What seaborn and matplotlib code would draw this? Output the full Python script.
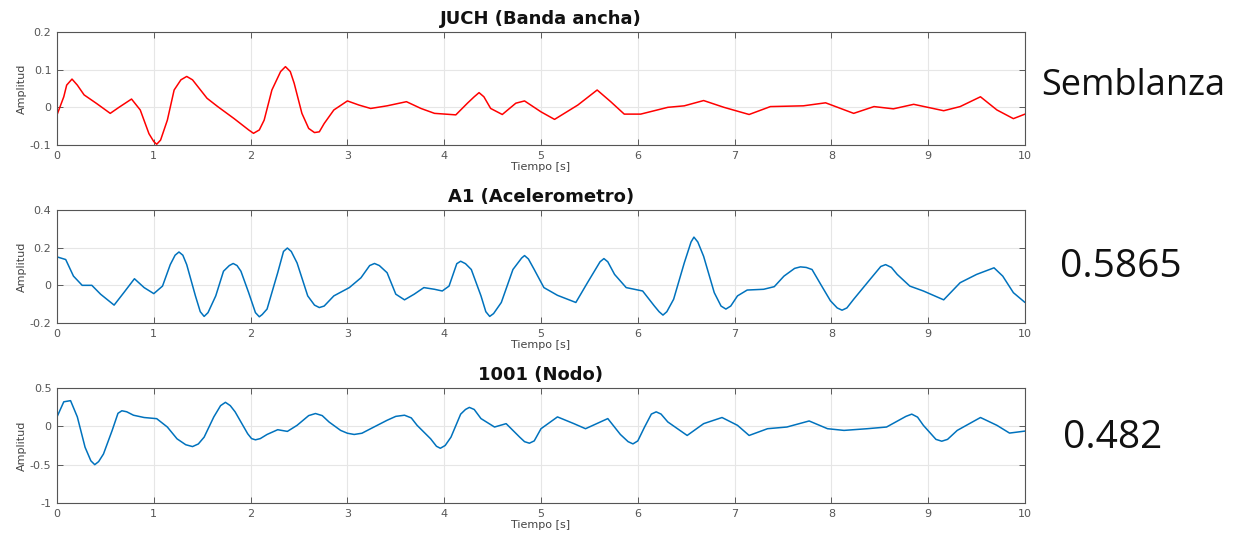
import numpy as np
import pandas as pd
import seaborn as sns
import matplotlib
matplotlib.use("Agg")
import matplotlib.pyplot as plt

# ---------------- data ----------------
juch_t = [0.0, 0.07, 0.10, 0.155, 0.21, 0.28, 0.41, 0.55, 0.64, 0.77, 0.86, 0.95, 1.0, 1.03, 1.07,
          1.14, 1.21, 1.28, 1.34, 1.40, 1.55, 1.66, 1.83, 1.98, 2.03, 2.09, 2.14, 2.22, 2.31, 2.36,
          2.41, 2.45, 2.53, 2.60, 2.66, 2.71, 2.76, 2.86, 3.0, 3.12, 3.24, 3.41, 3.61, 3.76, 3.90,
          4.12, 4.24, 4.31, 4.36, 4.41, 4.48, 4.6, 4.74, 4.83, 5.0, 5.14, 5.38, 5.58, 5.72, 5.86,
          6.03, 6.31, 6.48, 6.68, 6.89, 7.15, 7.37, 7.71, 7.94, 8.23, 8.44, 8.64, 8.85, 9.16, 9.33,
          9.54, 9.71, 9.88, 10.0]
juch_v = [-0.02, 0.028, 0.059, 0.075, 0.059, 0.033, 0.01, -0.016, 0.0, 0.022, -0.007, -0.07, -0.091,
          -0.098, -0.087, -0.034, 0.046, 0.073, 0.082, 0.073, 0.024, 0.002, -0.03, -0.06, -0.069,
          -0.06, -0.034, 0.046, 0.095, 0.108, 0.095, 0.064, -0.016, -0.056, -0.067, -0.065, -0.043,
          -0.007, 0.017, 0.006, -0.003, 0.004, 0.015, -0.003, -0.016, -0.02, 0.011, 0.028, 0.039,
          0.028, -0.003, -0.019, 0.011, 0.017, -0.012, -0.032, 0.006, 0.046, 0.015, -0.018, -0.018,
          0.0, 0.004, 0.018, 0.0, -0.019, 0.002, 0.004, 0.012, -0.016, 0.002, -0.004, 0.008, -0.009,
          0.002, 0.028, -0.007, -0.03, -0.018]

a1_t = [0.0, 0.09, 0.17, 0.26, 0.36, 0.45, 0.59, 0.69, 0.80, 0.90, 1.0, 1.09, 1.17, 1.22, 1.26, 1.30,
        1.34, 1.43, 1.48, 1.52, 1.56, 1.64, 1.72, 1.78, 1.82, 1.86, 1.9, 1.98, 2.05, 2.09, 2.12, 2.17,
        2.28, 2.34, 2.38, 2.42, 2.48, 2.59, 2.66, 2.71, 2.76, 2.86, 3.02, 3.14, 3.23, 3.28, 3.33, 3.41,
        3.5, 3.59, 3.69, 3.79, 3.9, 3.98, 4.05, 4.13, 4.17, 4.22, 4.28, 4.38, 4.43, 4.47, 4.51, 4.59,
        4.71, 4.80, 4.83, 4.87, 4.93, 5.03, 5.17, 5.36, 5.48, 5.61, 5.65, 5.69, 5.76, 5.88, 6.05, 6.17,
        6.22, 6.26, 6.30, 6.37, 6.48, 6.55, 6.58, 6.62, 6.68, 6.79, 6.86, 6.91, 6.96, 7.03, 7.13, 7.3,
        7.41, 7.51, 7.62, 7.68, 7.74, 7.8, 7.9, 7.99, 8.06, 8.11, 8.16, 8.23, 8.4, 8.51, 8.56, 8.62,
        8.68, 8.81, 8.95, 9.16, 9.33, 9.5, 9.68, 9.77, 9.88, 10.0]
a1_v = [0.151, 0.137, 0.049, 0.0, 0.0, -0.047, -0.105, -0.039, 0.035, -0.012, -0.044, -0.004, 0.11,
        0.16, 0.177, 0.16, 0.11, -0.056, -0.14, -0.165, -0.145, -0.056, 0.075, 0.105, 0.116, 0.105,
        0.075, -0.039, -0.145, -0.167, -0.155, -0.126, 0.067, 0.18, 0.198, 0.18, 0.119, -0.056, -0.105,
        -0.118, -0.11, -0.056, -0.012, 0.04, 0.105, 0.116, 0.105, 0.067, -0.047, -0.077, -0.047,
        -0.012, -0.021, -0.03, -0.004, 0.115, 0.128, 0.115, 0.084, -0.056, -0.14, -0.165, -0.15,
        -0.091, 0.084, 0.145, 0.158, 0.14, 0.084, -0.012, -0.053, -0.091, 0.014, 0.125, 0.142, 0.125,
        0.058, -0.012, -0.03, -0.109, -0.14, -0.158, -0.14, -0.074, 0.119, 0.23, 0.256, 0.23, 0.154,
        -0.039, -0.11, -0.126, -0.11, -0.056, -0.025, -0.021, -0.007, 0.049, 0.09, 0.098, 0.095, 0.084,
        -0.004, -0.082, -0.12, -0.132, -0.12, -0.074, 0.032, 0.1, 0.11, 0.095, 0.058, -0.004, -0.03,
        -0.077, 0.014, 0.058, 0.093, 0.049, -0.039, -0.091]

nodo_t = [0.0, 0.07, 0.14, 0.21, 0.29, 0.35, 0.39, 0.43, 0.48, 0.57, 0.63, 0.67, 0.72, 0.79, 0.9, 1.03,
          1.14, 1.24, 1.33, 1.4, 1.46, 1.52, 1.62, 1.69, 1.74, 1.79, 1.84, 1.97, 2.01, 2.05, 2.10, 2.17,
          2.28, 2.38, 2.48, 2.60, 2.67, 2.74, 2.81, 2.93, 3.0, 3.07, 3.15, 3.24, 3.41, 3.50, 3.59, 3.66,
          3.72, 3.86, 3.92, 3.96, 4.01, 4.07, 4.17, 4.22, 4.26, 4.31, 4.38, 4.52, 4.64, 4.78, 4.83,
          4.88, 4.93, 5.0, 5.17, 5.34, 5.46, 5.69, 5.82, 5.90, 5.95, 6.0, 6.07, 6.14, 6.19, 6.24, 6.31,
          6.51, 6.68, 6.87, 7.03, 7.15, 7.34, 7.54, 7.77, 7.96, 8.13, 8.37, 8.57, 8.77, 8.83, 8.89,
          8.95, 9.08, 9.14, 9.2, 9.3, 9.54, 9.71, 9.84, 10.0]
nodo_v = [0.123, 0.32, 0.335, 0.123, -0.273, -0.45, -0.5, -0.46, -0.361, -0.053, 0.17, 0.203, 0.19,
          0.145, 0.115, 0.1, -0.009, -0.163, -0.24, -0.264, -0.23, -0.141, 0.123, 0.27, 0.313, 0.27,
          0.189, -0.097, -0.16, -0.176, -0.16, -0.106, -0.044, -0.066, 0.013, 0.14, 0.167, 0.14, 0.057,
          -0.053, -0.09, -0.106, -0.09, -0.031, 0.079, 0.13, 0.145, 0.11, 0.013, -0.163, -0.26, -0.286,
          -0.25, -0.141, 0.159, 0.22, 0.247, 0.22, 0.101, -0.009, 0.035, -0.141, -0.2, -0.22, -0.19,
          -0.031, 0.123, 0.035, -0.031, 0.101, -0.106, -0.2, -0.229, -0.19, -0.009, 0.16, 0.189, 0.16,
          0.057, -0.119, 0.035, 0.115, 0.013, -0.119, -0.031, -0.009, 0.07, -0.031, -0.053, -0.031,
          -0.009, 0.13, 0.159, 0.12, 0.013, -0.17, -0.194, -0.17, -0.053, 0.115, 0.013, -0.088, -0.062]

titles = ["JUCH (Banda ancha)", "A1 (Acelerometro)", "1001 (Nodo)"]
y_ticks = [[-0.1, 0, 0.1, 0.2], [-0.2, 0, 0.2, 0.4], [-1, -0.5, 0, 0.5]]
y_ticklabels = [["-0.1", "0", "0.1", "0.2"], ["-0.2", "0", "0.2", "0.4"], ["-1", "-0.5", "0", "0.5"]]
x_ticks = list(range(0, 11))
side_texts = ["Semblanza", "0.5865", "0.482"]
xlabel = "Tiempo [s]"
ylabel = "Amplitud"

series = [(juch_t, juch_v), (a1_t, a1_v), (nodo_t, nodo_v)]
colors = ["#ff0000", "#0072bd", "#0072bd"]

# ---------------- figure ----------------
sns.set_theme(style="whitegrid")
plt.rcParams['font.family'] = ['DejaVu Sans']

fig = plt.figure(figsize=(12.34, 5.43), dpi=100)
W, H = 1234, 543
boxes = [(32, 145), (210, 323), (388, 503)]
left_px, right_px = 57, 1025

for i, ((t, v), (top, bot)) in enumerate(zip(series, boxes)):
    ax = fig.add_axes([left_px / W, 1 - bot / H, (right_px - left_px) / W, (bot - top) / H])
    df = pd.DataFrame({"t": t, "v": v})
    sns.lineplot(data=df, x="t", y="v", ax=ax, color=colors[i], linewidth=1.1)
    ax.set_xlim(0, 10)
    ax.set_ylim(y_ticks[i][0], y_ticks[i][-1])
    ax.set_xticks(x_ticks)
    ax.set_xticklabels([str(x) for x in x_ticks])
    ax.set_yticks(y_ticks[i])
    ax.set_yticklabels(y_ticklabels[i])
    ax.set_facecolor("white")
    ax.grid(True, color="#e6e6e6", linewidth=0.8)
    for s in ax.spines.values():
        s.set_color("#555555")
        s.set_linewidth(0.8)
    ax.tick_params(axis="both", which="both", direction="in", length=4, width=0.6,
                   colors="#444444", labelsize=8, labelcolor="#555555",
                   top=True, right=True, bottom=True, left=True, pad=4)
    ax.set_xlabel(xlabel, fontsize=8, color="#444444", labelpad=1)
    ax.set_ylabel(ylabel, fontsize=8, color="#444444", labelpad=2)
    ax.set_title(titles[i], fontsize=13, fontweight="bold", pad=6, color="#111111")

# side texts
fig.text(1133 / W, 1 - 86 / H, side_texts[0], fontsize=26, family="Open Sans",
         ha="center", va="center", color="#111111")
fig.text(1121 / W, 1 - 267 / H, side_texts[1], fontsize=28, family="Open Sans",
         ha="center", va="center", color="#111111")
fig.text(1113 / W, 1 - 438 / H, side_texts[2], fontsize=28, family="Open Sans",
         ha="center", va="center", color="#111111")

fig.savefig("out.png", dpi=100, facecolor="white")
